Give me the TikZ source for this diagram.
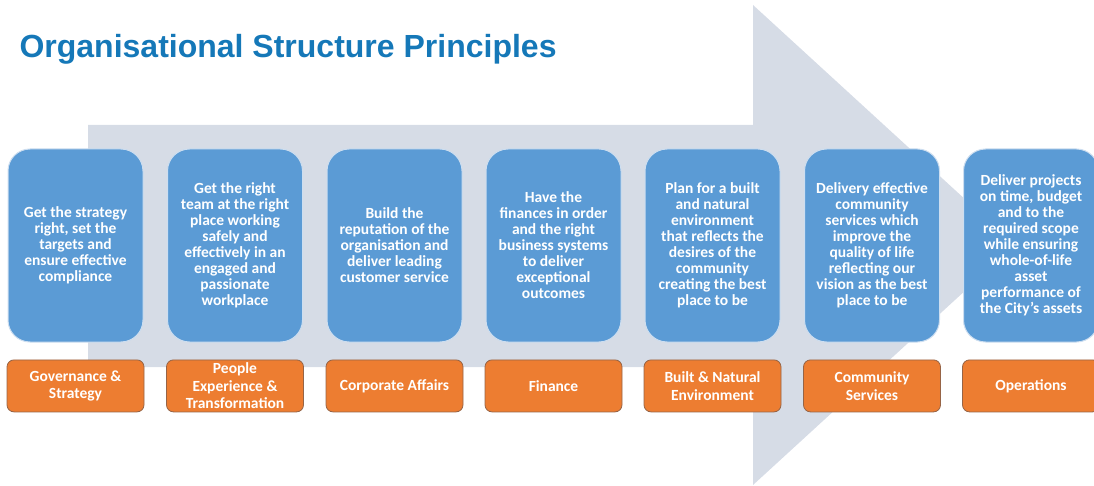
\documentclass[tikz,border=0pt]{standalone}
\usepackage{fontspec}
\setmainfont{Carlito}
\newfontfamily\headfont{Liberation Sans}
\usepackage{xcolor}
\usetikzlibrary{positioning}

\definecolor{headblue}{RGB}{21,120,184}
\definecolor{aimblue}{RGB}{91,155,213}
\definecolor{aimedge}{RGB}{205,222,240}
\definecolor{unitorange}{RGB}{237,125,49}
\definecolor{unitedge}{RGB}{150,100,70}
\definecolor{arrowgrey}{RGB}{214,220,230}

\begin{document}
\begin{tikzpicture}[x=1pt, y=-1pt,
		aim/.style={draw=aimedge, line width=1pt, fill=aimblue, rounded corners=22pt,
			minimum width=135pt, minimum height=193pt, inner sep=0pt, align=center,
			text=white, font=\bfseries\fontsize{15.5}{16}\selectfont},
		unit/.style={draw=unitedge, line width=0.8pt, fill=unitorange, rounded corners=7pt,
			minimum width=137pt, minimum height=52pt, inner sep=0pt, align=center,
			text=white, font=\bfseries\fontsize{15.5}{17.5}\selectfont}]
		\useasboundingbox (0,0) rectangle (1094,486);

		% big arrow behind the boxes
		\fill[arrowgrey] (88,125) -- (753,125) -- (753,5) -- (1015,245)
			-- (753,485) -- (753,367) -- (88,367) -- cycle;

		\node[anchor=base west, text=headblue, font=\headfont\bfseries\fontsize{32}{36}\selectfont]
			(title) at (16,58) {Organisational Structure Principles};

		% principles
		\node[aim] (aim1) at (75.5,245.5) {Get the strategy\\right, set the\\targets and\\ensure effective\\compliance};
		\node[aim] (aim2) at (235,245.5) {Get the right\\team at the right\\place working\\safely and\\effectively in an\\engaged and\\passionate\\workplace};
		\node[aim] (aim3) at (394.5,245.5) {Build the\\reputation of the\\organisation and\\deliver leading\\customer service};
		\node[aim] (aim4) at (553.5,245.5) {Have the\\finances in order\\and the right\\business systems\\to deliver\\exceptional\\outcomes};
		\node[aim] (aim5) at (712.5,245.5) {Plan for a built\\and natural\\environment\\that reflects the\\desires of the\\community\\creating the best\\place to be};
		\node[aim] (aim6) at (872,245.5) {Delivery effective\\community\\services which\\improve the\\quality of life\\reflecting our\\vision as the best\\place to be};
		\node[aim] (aim7) at (1031,245.5) {Deliver projects\\on time, budget\\and to the\\required scope\\while ensuring\\whole-of-life\\asset\\performance of\\the City’s assets};

		% business units
		\node[unit, below=17pt of aim1] (unit1) {Governance \&\\Strategy};
		\node[unit, below=17pt of aim2] (unit2) {People\\Experience \&\\Transformation};
		\node[unit, below=17pt of aim3] (unit3) {Corporate Affairs};
		\node[unit, below=17pt of aim4] (unit4) {Finance};
		\node[unit, below=17pt of aim5] (unit5) {Built \& Natural\\Environment};
		\node[unit, below=17pt of aim6] (unit6) {Community\\Services};
		\node[unit, below=17pt of aim7] (unit7) {Operations};
	\end{tikzpicture}
\end{document}
